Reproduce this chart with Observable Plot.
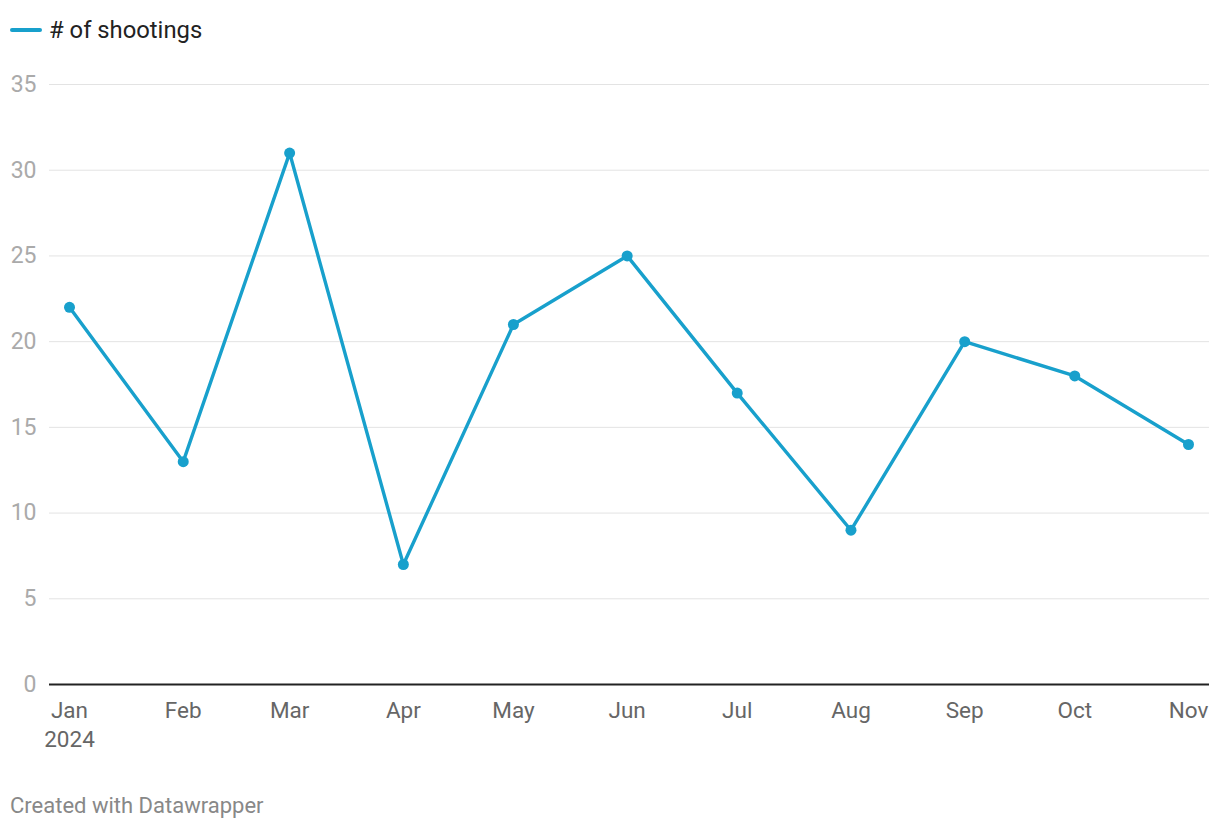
<!DOCTYPE html>
<html>
<head>
<meta charset="utf-8">
<script src="https://cdn.jsdelivr.net/npm/d3@7"></script>
<script src="https://cdn.jsdelivr.net/npm/@observablehq/plot@0.6"></script>
<style>
  html, body { margin: 0; padding: 0; background: #fff; }
  body { width: 1220px; height: 830px; position: relative; font-family: Roboto, sans-serif; }
  #legend { position: absolute; left: 10px; top: 16px; display: flex; align-items: center; font-size: 23.8px; line-height: 28px; color: #222; }
  #legend .sw { width: 32px; height: 4px; border-radius: 2px; background: #18a0cc; margin-right: 7px; }
  #chart { position: absolute; left: 0; top: 60px; }
  #caption { position: absolute; left: 10px; top: 792px; font-size: 22px; line-height: 28px; color: #888; }
</style>
</head>
<body>
<div id="legend"><span class="sw"></span><span># of shootings</span></div>
<div id="chart"></div>
<div id="caption">Created with Datawrapper</div>
<script>
const months = ["2024-01-01","2024-02-01","2024-03-01","2024-04-01","2024-05-01","2024-06-01","2024-07-01","2024-08-01","2024-09-01","2024-10-01","2024-11-01"];
const shootings = [22, 13, 31, 7, 21, 25, 17, 9, 20, 18, 14];
const xTickLabels = ["Jan\n2024","Feb","Mar","Apr","May","Jun","Jul","Aug","Sep","Oct","Nov"];
const yTicks = [0, 5, 10, 15, 20, 25, 30, 35];

const dates = months.map(s => new Date(s + "T00:00:00Z"));
const data = dates.map((d, i) => ({date: d, value: shootings[i]}));
const color = "#18a0cc";

const chart = Plot.plot({
  width: 1220,
  height: 700,
  marginTop: 24,
  marginBottom: 76,
  marginLeft: 69,
  marginRight: 32,
  x: {type: "utc", domain: [dates[0], dates[dates.length - 1]]},
  y: {domain: [0, 35]},
  style: {fontFamily: "Roboto, sans-serif", fontSize: "20px", background: "#fff"},
  marks: [
    Plot.ruleY(yTicks.filter(d => d > 0), {stroke: "#e3e3e3", strokeWidth: 1, insetLeft: -20, insetRight: -21}),
    Plot.axisY({ticks: yTicks, tickSize: 0, tickPadding: 33, color: "#aaa", fill: "#aaa", fontSize: 23, label: null}),
    Plot.axisX({ticks: dates, tickSize: 0, tickPadding: 12, color: "#666", fill: "#666", fontSize: 22.5, lineHeight: 1.32, label: null,
      tickFormat: (d) => xTickLabels[dates.findIndex(t => +t === +d)]}),
    Plot.line(data, {x: "date", y: "value", stroke: color, strokeWidth: 3.4, strokeLinejoin: "round"}),
    Plot.dot(data, {x: "date", y: "value", fill: color, r: 5.5, stroke: "none"}),
    Plot.ruleY([0], {stroke: "#222", strokeWidth: 2, insetLeft: -20, insetRight: -21})
  ]
});
document.getElementById("chart").appendChild(chart);
</script>
</body>
</html>
